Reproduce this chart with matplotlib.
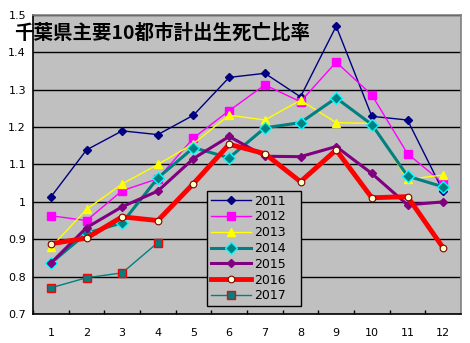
import matplotlib
matplotlib.use("Agg")
import matplotlib.pyplot as plt

plt.rcParams['font.family'] = ['Noto Sans CJK JP', 'DejaVu Sans']

months = [1, 2, 3, 4, 5, 6, 7, 8, 9, 10, 11, 12]
month_labels = ["1", "2", "3", "4", "5", "6", "7", "8", "9", "10", "11", "12"]

s2011 = [1.013, 1.139, 1.190, 1.180, 1.232, 1.333, 1.344, 1.281, 1.470, 1.229, 1.219, 1.028]
s2012 = [0.963, 0.950, 1.030, 1.062, 1.171, 1.244, 1.313, 1.268, 1.374, 1.286, 1.129, 1.050]
s2013 = [0.878, 0.980, 1.048, 1.100, 1.156, 1.232, 1.219, 1.272, 1.212, 1.210, 1.060, 1.072]
s2014 = [0.836, 0.916, 0.944, 1.064, 1.145, 1.118, 1.198, 1.212, 1.278, 1.207, 1.069, 1.040]
s2015 = [0.836, 0.931, 0.987, 1.029, 1.116, 1.175, 1.122, 1.121, 1.148, 1.076, 0.992, 1.000]
s2016 = [0.888, 0.903, 0.960, 0.950, 1.049, 1.154, 1.129, 1.054, 1.139, 1.011, 1.014, 0.877]
s2017 = [0.770, 0.797, 0.810, 0.891]

y_ticks = [0.7, 0.8, 0.9, 1.0, 1.1, 1.2, 1.3, 1.4, 1.5]
y_labels = ["0.7", "0.8", "0.9", "1", "1.1", "1.2", "1.3", "1.4", "1.5"]
title = "千葉県主要10都市計出生死亡比率"

fig = plt.figure(figsize=(4.70, 3.43), dpi=100)
ax = fig.add_axes([33/470, 29/343, 428/470, 299/343])
ax.set_facecolor('#C0C0C0')

series = [
    ("2011", s2011, dict(color='#000080', lw=1.0, marker='D', ms=4.2, mfc='#000080', mec='#000080')),
    ("2012", s2012, dict(color='#FF00FF', lw=1.0, marker='s', ms=5.2, mfc='#FF00FF', mec='#FF00FF')),
    ("2013", s2013, dict(color='#FFFF00', lw=1.0, marker='^', ms=6.2, mfc='#FFFF00', mec='#FFFF00')),
    ("2014", s2014, dict(color='#008080', lw=2.2, marker='D', ms=6.5, mfc='#008080', mec='#00FFFF', mew=1.0)),
    ("2015", s2015, dict(color='#800080', lw=2.2, marker='D', ms=4.2, mfc='#800080', mec='#800080')),
    ("2016", s2016, dict(color='#FF0000', lw=3.5, marker='o', ms=4.8, mfc='#FFFFCC', mec='#800000', mew=0.8)),
    ("2017", s2017, dict(color='#008080', lw=1.0, marker='s', ms=5.2, mfc='#008080', mec='#FF0000', mew=1.0)),
]
for name, vals, st in series:
    ax.plot(months[:len(vals)], vals, label=name, zorder=3, **st)

ax.set_xlim(0.5, 12.5)
ax.set_ylim(0.7, 1.5)
ax.set_yticks(y_ticks)
ax.set_yticklabels(y_labels, fontsize=8, family=['DejaVu Sans'])
ax.tick_params(axis='y', length=0, pad=5)
ax.set_xticks(months)
ax.set_xticklabels(month_labels, fontsize=8, family=['DejaVu Sans'])
ax.tick_params(axis='x', which='major', length=0, pad=10)
ax.set_xticks([m + 0.5 for m in months[:-1]] + [0.5], minor=True)
ax.tick_params(axis='x', which='minor', direction='in', length=3, color='black', width=1)
ax.yaxis.grid(True, color='black', lw=1)
ax.set_axisbelow(True)

for side in ['left', 'bottom']:
    ax.spines[side].set_color('black')
    ax.spines[side].set_linewidth(1.2)
for side in ['top', 'right']:
    ax.spines[side].set_color('#808080')
    ax.spines[side].set_linewidth(1.2)

leg = ax.legend(loc='lower left', bbox_to_anchor=((207-33)/428, (314-306)/299, (301-207)/428, (306-191)/299),
                mode='expand', frameon=True, fancybox=False, handlelength=3.2,
                borderaxespad=0, labelspacing=0.22, handletextpad=0.3, borderpad=0.3,
                prop={'family': ['DejaVu Sans'], 'size': 9})
leg.get_frame().set_facecolor('#C0C0C0')
leg.get_frame().set_edgecolor('black')
leg.get_frame().set_alpha(1)
leg.get_frame().set_linewidth(1)

fig.text(14/470, 1 - 33/343, title, fontsize=14, fontweight='bold', va='center', ha='left', color='black')

fig.savefig('out.png', dpi=100)
